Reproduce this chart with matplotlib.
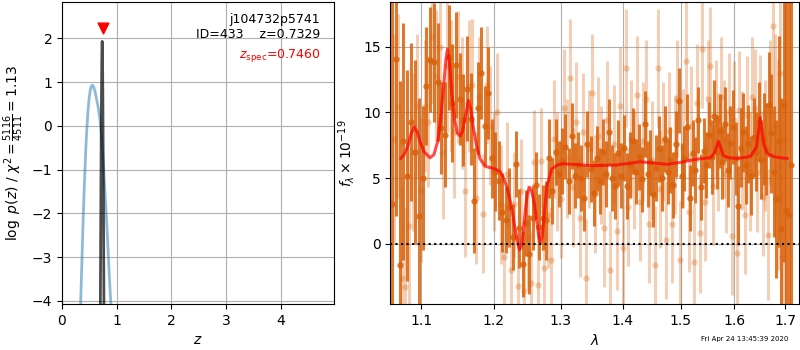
import numpy as np
import matplotlib
matplotlib.use('Agg')
import matplotlib.pyplot as plt
from matplotlib.ticker import FixedLocator, FixedFormatter, NullLocator

# p(z) curves
prior_z = [0.320, 0.342, 0.354, 0.366, 0.378, 0.390, 0.404, 0.420, 0.436, 0.455,
           0.475, 0.495, 0.515, 0.535, 0.555, 0.575, 0.600, 0.630, 0.665, 0.690,
           0.714, 0.735, 0.757, 0.780, 0.800, 0.825, 0.848, 0.870, 0.890, 0.910]
prior_lnp = [-5.2, -4.0, -3.5, -3.0, -2.5, -2.0, -1.5, -1.0, -0.5, -0.05,
             0.35, 0.62, 0.80, 0.90, 0.93, 0.90, 0.80, 0.62, 0.40, 0.18,
             -0.12, -0.50, -0.90, -1.40, -1.85, -2.40, -3.0, -3.55, -4.0, -4.6]

pz_z = [0.690, 0.700, 0.708, 0.715, 0.721, 0.727, 0.731, 0.734, 0.737, 0.741,
        0.746, 0.752, 0.759, 0.767, 0.776]
pz_lnp = [-6.0, -4.3, -2.2, -0.6, 0.6, 1.45, 1.85, 1.93, 1.85, 1.5,
          0.7, -0.6, -2.2, -4.3, -6.0]

z_best = 0.7329
z_spec = 0.7460
root = 'j104732p5741'
obj_id = 433
chi2 = 5116
dof = 4511

# spectrum, first set of beams
dark_lam = [1.062, 1.067, 1.072, 1.077, 1.082, 1.087, 1.092, 1.097, 1.102, 1.107,
            1.112, 1.117, 1.122, 1.127, 1.132, 1.137, 1.142, 1.147, 1.152, 1.157,
            1.162, 1.167, 1.172, 1.177, 1.182, 1.187, 1.192, 1.197, 1.202, 1.207,
            1.212, 1.217, 1.222, 1.227, 1.232, 1.237, 1.242, 1.247, 1.252, 1.257,
            1.262, 1.267, 1.272, 1.277, 1.282, 1.287, 1.292, 1.297, 1.302, 1.307,
            1.312, 1.317, 1.322, 1.327, 1.332, 1.337, 1.342, 1.347, 1.352, 1.357,
            1.362, 1.367, 1.372, 1.377, 1.382, 1.387, 1.392, 1.397, 1.402, 1.407,
            1.412, 1.417, 1.422, 1.427, 1.432, 1.437, 1.442, 1.447, 1.452, 1.457,
            1.462, 1.467, 1.472, 1.477, 1.482, 1.487, 1.492, 1.497, 1.502, 1.507,
            1.512, 1.517, 1.522, 1.527, 1.532, 1.537, 1.542, 1.547, 1.552, 1.557,
            1.562, 1.567, 1.572, 1.577, 1.582, 1.587, 1.592, 1.597, 1.602, 1.607,
            1.612, 1.617, 1.622, 1.627, 1.632, 1.637, 1.642, 1.647, 1.652, 1.657,
            1.662, 1.667, 1.672, 1.677, 1.682, 1.687, 1.692, 1.697, 1.702, 1.707,
            1.712]
dark_flux = [3.0, 14.1, -1.6, 7.8, 5.2, 9.3, 7.0, 2.1, 5.0, 12.0,
             14.0, 13.8, 12.3, 8.8, 8.3, 14.2, 10.7, 13.6, 11.0, 9.4,
             11.8, 9.5, 3.3, 10.3, 13.0, 9.0, 11.5, 6.5, 5.5, 4.8,
             2.4, 1.8, 2.8, 0.5, 6.1, 1.2, -1.5, 1.6, -0.8, 2.0,
             4.5, 1.3, 2.0, 1.8, 6.5, 4.0, 7.0, 5.3, 6.3, 7.4,
             4.8, 8.2, 5.2, 6.0, 5.0, 3.5, 7.6, 5.7, 3.9, 6.5,
             4.8, 7.0, 5.3, 8.5, 5.0, 4.4, 6.9, 5.2, 7.3, 4.4,
             6.0, 7.8, 5.5, 6.6, 4.9, 9.1, 5.3, 6.2, 3.8, 5.8,
             7.2, 5.0, 8.0, 5.5, 6.4, 4.5, 7.6, 10.9, 5.2, 6.5,
             8.9, 3.5, 6.9, 5.6, 9.4, 4.3, 7.1, 6.0, 8.3, 6.6,
             9.7, 7.0, 8.6, 6.2, 9.1, 5.6, 7.7, 8.9, 6.5, 2.9,
             7.3, 8.5, 6.0, 7.6, 5.2, 8.1, 7.0, 9.3, 6.4, 8.0,
             7.2, 10.6, 8.4, 5.5, 3.4, 7.8, 1.1, 10.6, 2.6, 2.2,
             6.0]
dark_err = [30, 12, 14, 9, 8, 6, 7, 9, 5.5, 4.5,
            4, 4.5, 4.5, 3.5, 4, 4, 4.5, 4, 3.5, 3.5,
            4, 3.5, 4, 3.5, 3.5, 3, 3.5, 3, 3, 3,
            3, 2.5, 3, 2.5, 2.5, 3, 2.5, 2.5, 3, 2.5,
            2.5, 2.5, 2.5, 3, 3, 2.5, 2.5, 2.5, 2.5, 2.5,
            2.5, 2.5, 2.5, 2.5, 2.5, 2.5, 2.5, 2.5, 2.5, 2.5,
            2.5, 2.5, 2.5, 2.5, 2.5, 2.5, 2.5, 2.5, 2.5, 2.5,
            2.5, 2.5, 2.5, 2.5, 2.5, 2.5, 2.5, 2.5, 2.5, 2.5,
            2.5, 2.5, 2.5, 2.5, 2.5, 2.5, 2.5, 2.5, 2.5, 2.5,
            2.5, 2.5, 2.5, 2.5, 2.5, 2.5, 2.5, 2.5, 2.5, 2.8,
            2.8, 2.8, 2.8, 2.8, 2.8, 2.8, 2.8, 2.8, 2.8, 3,
            3, 3, 3, 3, 3, 3, 3, 3, 3, 3.5,
            3.5, 4, 4.5, 5, 6, 8, 10, 12, 20, 25,
            30]

# spectrum, second set of beams
light_lam = [1.0645, 1.0695, 1.0745, 1.0795, 1.0845, 1.0895, 1.0945, 1.0995, 1.1045, 1.1095,
             1.1145, 1.1195, 1.1245, 1.1295, 1.1345, 1.1395, 1.1445, 1.1495, 1.1545, 1.1595,
             1.1645, 1.1695, 1.1745, 1.1795, 1.1845, 1.1895, 1.1945, 1.1995, 1.2045, 1.2095,
             1.2145, 1.2195, 1.2245, 1.2295, 1.2345, 1.2395, 1.2445, 1.2495, 1.2545, 1.2595,
             1.2645, 1.2695, 1.2745, 1.2795, 1.2845, 1.2895, 1.2945, 1.2995, 1.3045, 1.3095,
             1.3145, 1.3195, 1.3245, 1.3295, 1.3345, 1.3395, 1.3445, 1.3495, 1.3545, 1.3595,
             1.3645, 1.3695, 1.3745, 1.3795, 1.3845, 1.3895, 1.3945, 1.3995, 1.4045, 1.4095,
             1.4145, 1.4195, 1.4245, 1.4295, 1.4345, 1.4395, 1.4445, 1.4495, 1.4545, 1.4595,
             1.4645, 1.4695, 1.4745, 1.4795, 1.4845, 1.4895, 1.4945, 1.4995, 1.5045, 1.5095,
             1.5145, 1.5195, 1.5245, 1.5295, 1.5345, 1.5395, 1.5445, 1.5495, 1.5545, 1.5595,
             1.5645, 1.5695, 1.5745, 1.5795, 1.5845, 1.5895, 1.5945, 1.5995, 1.6045, 1.6095,
             1.6145, 1.6195, 1.6245, 1.6295, 1.6345, 1.6395, 1.6445, 1.6495, 1.6545, 1.6595,
             1.6645, 1.6695, 1.6745, 1.6795, 1.6845, 1.6895, 1.6945, 1.6995]
light_flux = [8.0, 10.5, -2.6, -3.3, 1.4, 7.0, 10.5, 4.1, 10.5, 9.3,
              15.7, 12.8, 15.0, 6.9, 13.5, 12.0, 8.5, 12.7, 10.7, 4.0,
              12.0, 12.1, 3.5, 11.2, 2.3, 12.1, 9.0, 5.5, 10.0, 3.0,
              -1.0, 5.3, -2.0, 3.0, -3.2, 4.0, -3.6, 0.5, -3.0, 6.2,
              -3.1, 6.3, -1.8, 2.2, -1.2, 8.0, 5.5, 3.4, 10.3, 6.5,
              12.6, 4.3, 9.3, 2.0, 8.5, -2.6, 7.2, 11.5, 3.8, 8.2,
              6.0, 1.2, 9.4, -2.0, 7.6, 1.0, 10.5, -0.3, 13.4, 2.8,
              8.0, 5.6, 11.3, 3.2, 7.8, 11.0, 1.5, 6.4, -1.6, 13.4,
              4.2, 7.8, 0.3, 8.6, 1.5, 6.8, 11.0, -1.2, 7.3, 13.9,
              2.4, 9.0, -1.4, 10.7, 0.8, 14.8, 3.2, 11.0, 13.5, 4.4,
              9.5, 7.0, 11.2, 8.0, 5.3, 10.0, 0.6, 9.4, -0.7, 10.2,
              7.1, 2.2, 9.8, 5.5, 11.2, 10.3, 5.4, 9.9, 3.6, 7.5,
              0.7, 10.0, 16.6, 9.0, 6.0, 13.0, -1.0, 8.0]
light_err = [8, 7, 7, 6, 6, 6, 5.5, 5.5, 5, 5,
             5, 5, 5, 5, 5, 5, 5, 5, 5, 5,
             5, 5, 5, 4.5, 4.5, 4.5, 4.5, 4.5, 4.5, 4.5,
             4, 4, 4, 4, 4, 4, 4, 4, 4, 4,
             4, 4, 4, 4, 4, 4.5, 4.5, 4.5, 4.5, 4.5,
             4.5, 4.5, 4.5, 4.5, 4.5, 4.5, 4.5, 4.5, 4.5, 4.5,
             4.5, 4.5, 4.5, 4.5, 4.5, 4.5, 4.5, 4.5, 4.5, 4.5,
             4.5, 4.5, 4.5, 4.5, 4.5, 4.5, 4.5, 4.5, 4.5, 4.5,
             4.5, 4.5, 4.5, 4.5, 4.5, 4.5, 4.5, 4.5, 4.5, 4.5,
             4.5, 4.5, 4.5, 4.5, 4.5, 4.5, 4.5, 4.5, 4.5, 4.5,
             4.5, 4.5, 4.5, 4.5, 4.5, 4.5, 4.5, 4.5, 4.5, 4.5,
             4.5, 4.5, 4.5, 4.5, 4.5, 4.5, 4.5, 4.5, 4.5, 5,
             5, 5.5, 6, 7, 8, 10, 12, 15]

# best-fit template
model_lam = [1.0736, 1.0780, 1.0830, 1.0870, 1.0910, 1.0950, 1.0990, 1.1040, 1.1118, 1.1170,
             1.1220, 1.1260, 1.1300, 1.1330, 1.1352, 1.1380, 1.1410, 1.1450, 1.1490, 1.1527,
             1.1560, 1.1600, 1.1640, 1.1670, 1.1710, 1.1756, 1.1800, 1.1874, 1.1950, 1.2020,
             1.2090, 1.2140, 1.2190, 1.2235, 1.2280, 1.2320, 1.2350, 1.2372, 1.2400, 1.2430,
             1.2460, 1.2490, 1.2521, 1.2550, 1.2590, 1.2630, 1.2660, 1.2682, 1.2710, 1.2740,
             1.2785, 1.2858, 1.2950, 1.3036, 1.3200, 1.3500, 1.3900, 1.4295, 1.4760, 1.5000,
             1.5300, 1.5540, 1.5620, 1.5694, 1.5740, 1.5790, 1.5900, 1.6050, 1.6310, 1.6430,
             1.6500, 1.6570, 1.6634, 1.6766, 1.6900, 1.7035]
model_flux = [6.5, 6.8, 7.5, 8.4, 8.9, 8.5, 7.7, 7.0, 6.55, 6.8,
              7.8, 9.5, 12.0, 14.0, 14.8, 13.8, 11.5, 9.4, 8.4, 8.2,
              8.6, 9.8, 10.9, 10.3, 8.8, 7.4, 6.5, 5.9, 5.8, 5.7,
              5.5, 5.0, 4.3, 3.3, 2.0, 0.8, 0.0, -0.45, -0.2, 1.0,
              2.6, 3.8, 4.3, 4.1, 3.2, 1.8, 0.6, 0.05, 0.5, 2.0,
              4.4, 5.7, 6.0, 6.1, 6.05, 5.95, 6.0, 6.25, 6.05, 6.2,
              6.45, 6.55, 6.9, 7.8, 7.3, 6.7, 6.55, 6.5, 6.65, 7.4,
              9.6, 7.6, 6.9, 6.65, 6.55, 6.5]

stamp = 'Fri Apr 24 13:45:39 2020'


def main():
    fig = plt.figure(figsize=(8, 3.5), dpi=100)

    # log p(z)
    ax = fig.add_axes([0.0775, 0.1314, 0.34, 0.863])
    ax.plot(prior_z, prior_lnp, color='tab:blue', alpha=0.5, lw=2)
    ax.plot(pz_z, pz_lnp, color='k', alpha=0.7, lw=2)
    pzmax = max(pz_lnp)
    ax.scatter([z_spec], [pzmax + 0.3], marker='v', color='r', s=60, zorder=5)

    ax.text(0.95, 0.965, '{0}\nID={1}    z={2:.4f}'.format(root, obj_id, z_best),
            ha='right', va='top', transform=ax.transAxes, fontsize=9)
    ax.text(0.95, 0.85, r'$z_\mathrm{spec}$' + '={0:.4f}'.format(z_spec),
            ha='right', va='top', transform=ax.transAxes, fontsize=9, color='r')

    ax.set_xlim(0, 4.97)
    ax.set_ylim(pzmax - 6, pzmax + 0.9)
    ax.set_xticks([0, 1, 2, 3, 4])
    ax.set_yticks([-4, -3, -2, -1, 0, 1, 2])
    ax.set_xlabel(r'$z$')
    ax.set_ylabel(r'$\log\ p(z)$' + ' / ' +
                  r'$\chi^2=\frac{%d}{%d}=%.2f$' % (chi2, dof, chi2 / dof))
    ax.grid()

    # spectrum
    ax2 = fig.add_axes([0.488, 0.1314, 0.511, 0.863])
    col = '#d9620b'
    ax2.errorbar(light_lam, light_flux, yerr=light_err, marker='o', ms=4.5,
                 linestyle='none', color=col, alpha=0.3, elinewidth=2.2, mew=0)
    ax2.errorbar(dark_lam, dark_flux, yerr=dark_err, marker='o', ms=4.5,
                 linestyle='none', color=col, alpha=0.85, elinewidth=2.2, mew=0)
    ax2.plot(model_lam, model_flux, color='r', alpha=0.7, lw=2.2, zorder=4)
    ax2.axhline(0, color='k', linestyle=':', lw=1.5, zorder=5)

    ax2.set_xscale('log')
    ax2.set_xlim(1.0603, 1.7287)
    ax2.set_ylim(-4.57, 18.4)
    ticks = [1.1, 1.2, 1.3, 1.4, 1.5, 1.6, 1.7]
    ax2.xaxis.set_major_locator(FixedLocator(ticks))
    ax2.xaxis.set_major_formatter(FixedFormatter(['{0:.1f}'.format(t) for t in ticks]))
    ax2.xaxis.set_minor_locator(NullLocator())
    ax2.set_yticks([0, 5, 10, 15])
    ax2.set_xlabel(r'$\lambda$')
    ax2.set_ylabel(r'$f_\lambda \times 10^{-19}$')
    ax2.grid()

    fig.text(0.985, 0.022, stamp, ha='right', va='bottom', fontsize=5)

    fig.savefig('out.png', dpi=100)
    plt.close(fig)


if __name__ == '__main__':
    main()
